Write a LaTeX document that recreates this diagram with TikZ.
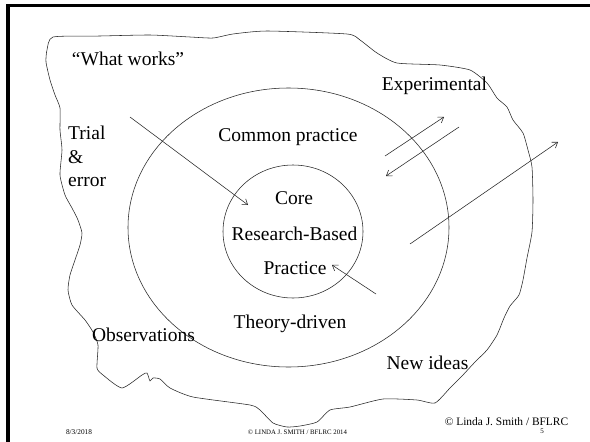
\documentclass[tikz,border=0pt]{standalone}
\usepackage{fontspec}
\setmainfont{Liberation Serif}
\usetikzlibrary{arrows.meta}
\tikzset{
  lbl/.style={inner sep=0pt, anchor=base, font=\fontsize{19.5}{23}\selectfont},
  lblw/.style={lbl, anchor=base west},
  ftr/.style={inner sep=0pt, anchor=base},
  thin line/.style={line width=0.55pt, black!85},
  arr/.style={thin line, -{Straight Barb[length=5pt,width=7pt]}},
  frame/.style={line width=3.2pt, black}
}
\begin{document}
\begin{tikzpicture}[x=1pt,y=-1pt]
\useasboundingbox (0,0) rectangle (590,442);
\fill[white] (0,0) rectangle (590,442);
% frame
\draw[frame] (8,442) -- (8,5.5) -- (590,5.5);
% outer blob
\draw[thin line] plot[smooth cycle, tension=0.35] coordinates {
 (53,37) (100,36) (150,35) (190,37) (213,38) (233,34) (267,31) (347,34)
 (360,40) (377,53) (397,63) (440,65) (470,70) (487,83) (497,98)
 (507,107) (513,120) (523,133) (528,150) (532,167) (533,200) (532,232)
 (527,258) (523,280) (519,295) (510,306) (504,318) (497,335) (487,350)
 (475,362) (462,376) (450,388) (435,403) (417,400) (383,399) (350,407)
 (330,410) (317,422) (300,426) (287,427) (273,423) (260,410) (250,405)
 (193,397) (170,388) (160,379) (153,378) (150,381) (147,373) (142,375)
 (122,388) (103,375) (97,368) (98,345) (93,332) (85,320) (72,305)
 (68,290) (70,275) (75,260) (80,245) (82,233) (78,220) (72,208) (65,195)
 (60,175) (62,150) (60,130) (60,108) (55,95) (50,80) (46,62) (47,50)
};
% ellipses
\draw[thin line] (288.5,227.5) ellipse [x radius=160.5, y radius=139.5];
\draw[thin line] (293,231.5) ellipse [x radius=70, y radius=66.5];
% labels
\node[lbl] (whatworks) at (128,65) {“What works”};
\node[lblw] (trial) at (68,139) {Trial};
\node[lblw] (amp) at (68,163) {\&};
\node[lblw] (error) at (68,186) {error};
\node[lbl] (common) at (288,141) {Common practice};
\node[lbl] (exper) at (434.5,90) {Experimental};
\node[lbl] (core) at (294,204) {Core};
\node[lbl] (rbased) at (294.5,240) {Research-Based};
\node[lbl] (practice) at (295,274) {Practice};
\node[lbl] (theory) at (290,328) {Theory-driven};
\node[lbl] (obs) at (143.5,341) {Observations};
\node[lbl] (newideas) at (427.5,369) {New ideas};
% footer
\node[ftr, font=\fontsize{7.3}{8}\selectfont] (date) at (79,434) {8/3/2018};
\node[ftr, font=\fontsize{6.8}{8}\selectfont] (copy1) at (297.5,434) {© LINDA J. SMITH / BFLRC 2014};
\node[ftr, font=\fontsize{11.4}{13}\selectfont] (copy2) at (506.5,425) {© Linda J. Smith / BFLRC};
\node[ftr, font=\fontsize{7}{8}\selectfont] (pnum) at (542,433) {5};
% arrow endpoints
\coordinate (a1s) at (130,117); \coordinate (a1e) at (248,205);
\coordinate (a2s) at (385,156); \coordinate (a2e) at (444,117);
\coordinate (a3s) at (459,127); \coordinate (a3e) at (386,176);
\coordinate (a4s) at (410,244); \coordinate (a4e) at (558,142);
\coordinate (a5s) at (376,294); \coordinate (a5e) at (332,265);
\draw[arr] (a1s) -- (a1e);
\draw[arr] (a2s) -- (a2e);
\draw[arr] (a3s) -- (a3e);
\draw[arr] (a4s) -- (a4e);
\draw[arr] (a5s) -- (a5e);
\end{tikzpicture}
\end{document}
